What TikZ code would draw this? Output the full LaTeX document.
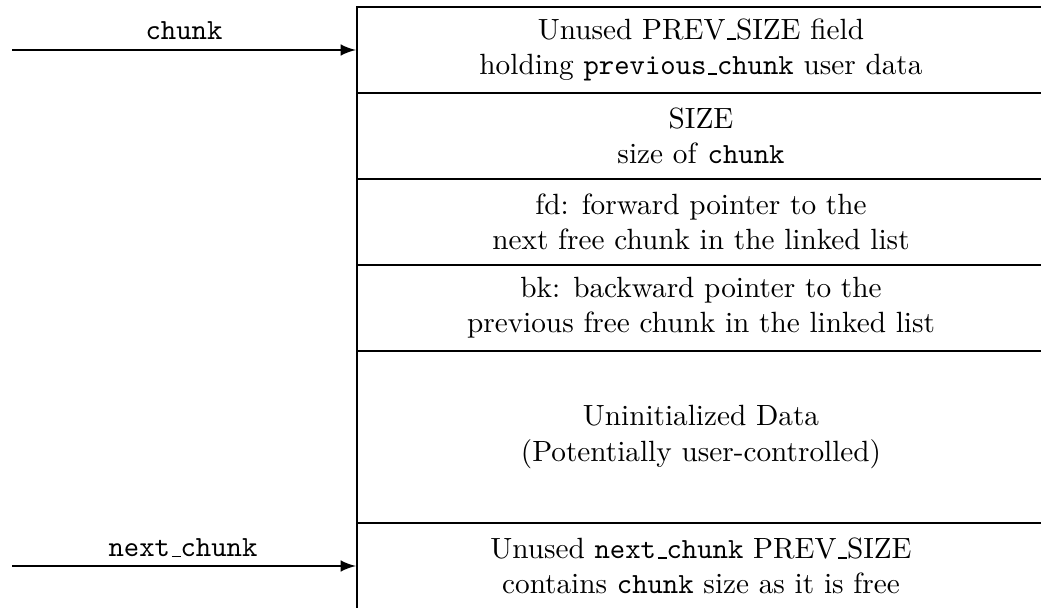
\documentclass[tikz,border=0pt]{standalone}
\usetikzlibrary{arrows}
% short low rule used as the underscore in identifiers and field names
\newcommand\usc{\leavevmode\kern.06em\vbox{\hrule width.3em}}
\begin{document}
% one unit = 0.3417pt; y grows downward
\begin{tikzpicture}[x=0.3417pt,y=-0.3417pt,
  row/.style={draw,thick,rectangle,align=center,inner sep=0pt,
    minimum width=688*0.3417pt,minimum height=86*0.3417pt},
  ptr/.style={thick,-latex},
  ptrlabel/.style={inner sep=0pt}]
\useasboundingbox (0,0) rectangle (1041,608);
\clip (0,0) rectangle (1041,608);

% chunk layout, top to bottom
\node[row] (prev) at (701,50)  {Unused PREV\usc SIZE field\\holding \texttt{previous\usc chunk} user data};
\node[row] (size) at (701,136) {SIZE\\size of \texttt{chunk}};
\node[row] (fd)   at (701,222) {fd: forward pointer to the\\next free chunk in the linked list};
\node[row] (bk)   at (701,308) {bk: backward pointer to the\\previous free chunk in the linked list};
\node[row,minimum height=172*0.3417pt] (data) at (701,437)
  {Uninitialized Data\\(Potentially user-controlled)};
\node[row] (next) at (701,566)
  {Unused \texttt{next\usc chunk} PREV\usc SIZE\\contains \texttt{chunk} size as it is free};

% pointers into the chunk
\coordinate (chunkstart) at (12,50);
\coordinate (nextstart)  at (12,566);
\draw[ptr] (chunkstart) -- (prev.west);
\draw[ptr] (nextstart) -- (next.west);
\node[ptrlabel] (chunklbl) at (184,31)  {\texttt{chunk}};
\node[ptrlabel] (nextlbl)  at (183,548) {\texttt{next\usc chunk}};
\end{tikzpicture}
\end{document}
